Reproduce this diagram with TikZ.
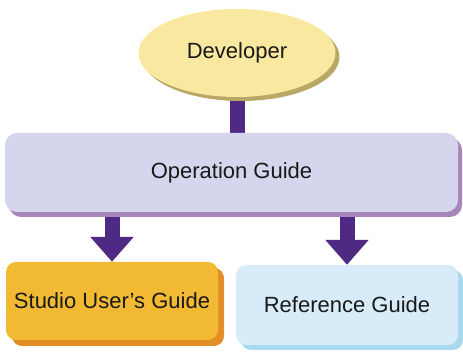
\documentclass[tikz,border=0pt]{standalone}
\usepackage{fontspec}
\setmainfont{Liberation Sans}
\usetikzlibrary{positioning, shapes.geometric, arrows.meta, shadows, backgrounds}
\definecolor{devfill}{HTML}{F9E8A0}
\definecolor{devshadow}{HTML}{B8A765}
\definecolor{opfill}{HTML}{D5D5EE}
\definecolor{opshadow}{HTML}{A886BC}
\definecolor{flowcol}{HTML}{4E2A84}
\definecolor{studiofill}{HTML}{F2BA33}
\definecolor{studioshadow}{HTML}{E28D28}
\definecolor{reffill}{HTML}{D7ECF8}
\definecolor{refshadow}{HTML}{A9D9EE}
\tikzset{
	every text node part/.style= {
		align=center
	},
	label text/.style= {
		text=black!90,
		font=\fontsize{22}{26}\selectfont,
	},
	person/.style= {
		ellipse,
		label text,
		inner sep=0,
	},
	guide/.style= {
		rectangle,
		label text,
		inner sep=0,
	},
	flow/.style= {
		flowcol,
		line width=15pt,
	},
}

\begin{document}
\begin{tikzpicture}[x=1pt, y=-1pt]
		\useasboundingbox (0,0) rectangle (463,352);

		\node (dev) [person, fill=devfill, minimum width=197pt, minimum height=88pt,
			drop shadow={shadow xshift=4pt, shadow yshift=-4pt, fill=devshadow, opacity=1}] at (237,53) {Developer};

		\node (op) [guide, fill=opfill, rounded corners=12pt, minimum width=453pt, minimum height=79pt,
			drop shadow={shadow xshift=4pt, shadow yshift=-5pt, fill=opshadow, opacity=1}] at (231.5,172.5) {Operation Guide};

		\node (studio) [guide, fill=studiofill, rounded corners=10pt, minimum width=212pt, minimum height=78pt,
			drop shadow={shadow xshift=6pt, shadow yshift=-6pt, fill=studioshadow, opacity=1}] at (112,301) {Studio User’s Guide};

		\node (ref) [guide, fill=reffill, rounded corners=10pt, minimum width=222pt, minimum height=80pt,
			drop shadow={shadow xshift=5pt, shadow yshift=-5pt, fill=refshadow, opacity=1}] at (347,305) {Reference Guide};

		\begin{scope}[on background layer]
			\draw[flow] (dev.south) to (dev.south |- op.north);
			\draw[flow, -{Triangle[width=42pt, length=25pt]}] (op.south -| studio.north) to (studio.north);
			\draw[flow, -{Triangle[width=42pt, length=25pt]}] (op.south -| ref.north) to (ref.north);
		\end{scope}
	\end{tikzpicture}
\end{document}
